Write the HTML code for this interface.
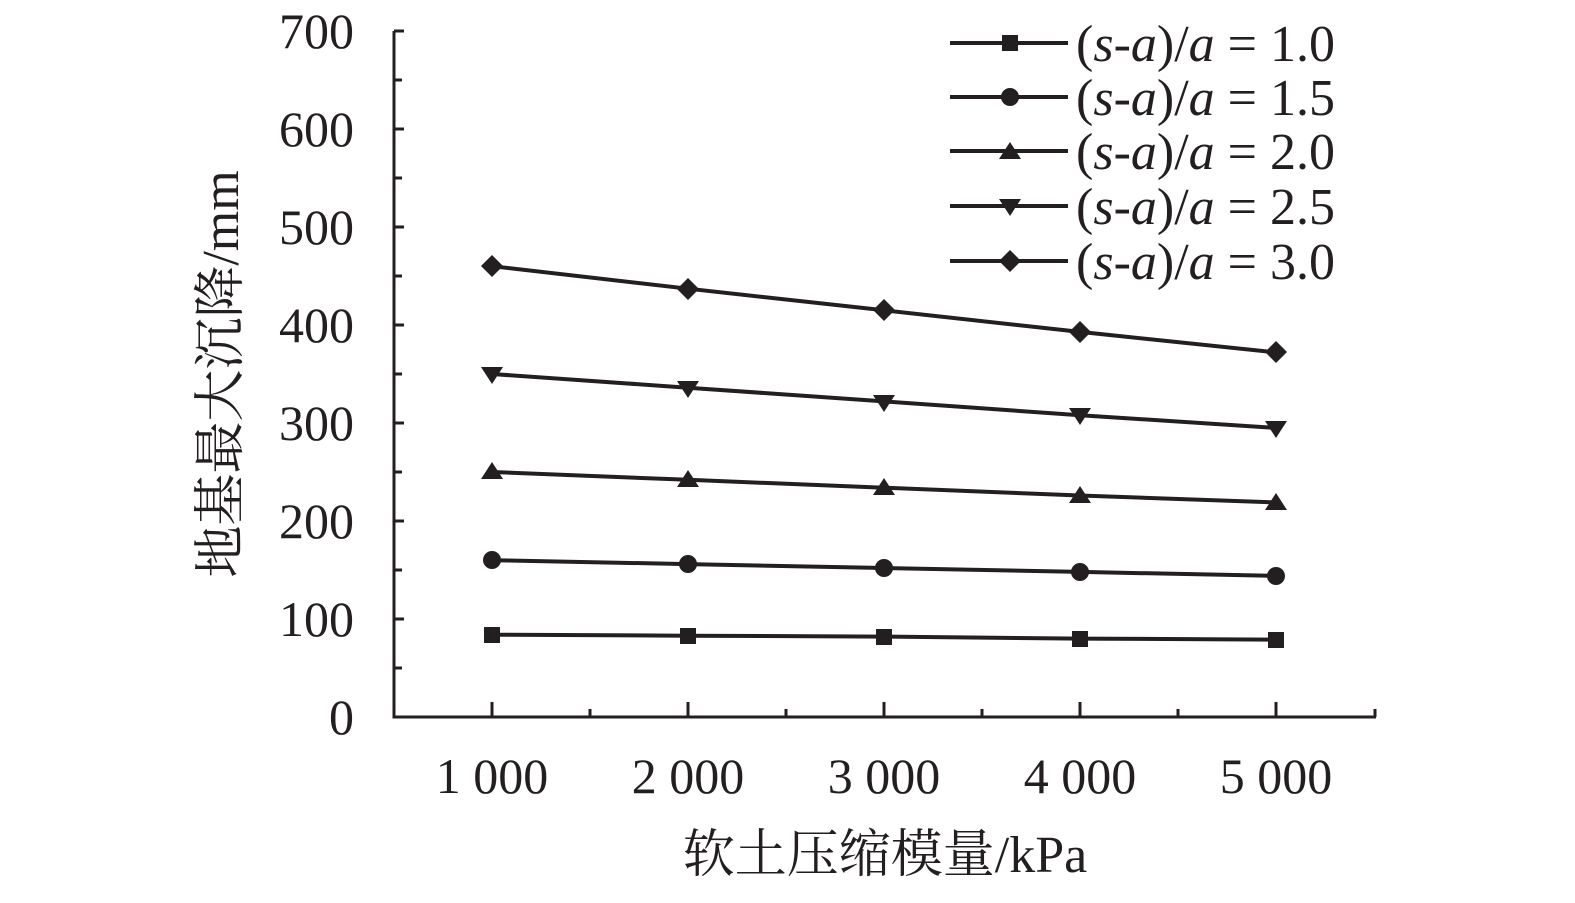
<!DOCTYPE html>
<html><head><meta charset="utf-8"><style>
html,body{margin:0;padding:0;background:#fff}
svg text{font-family:"Liberation Serif","Noto Serif CJK SC",serif;fill:#231f20}
</style></head><body>
<svg width="1575" height="898" viewBox="0 0 1575 898" xmlns="http://www.w3.org/2000/svg">
<g stroke="#231f20" stroke-width="3" fill="none">
<path d="M394 31 V717 H1376"/>
<path d="M394 31h10M394 80h8M394 129h10M394 178h8M394 227h10M394 276h8M394 325h10M394 374h8M394 423h10M394 472h8M394 521h10M394 570h8M394 619h10M394 668h8"/>
<path d="M492 717v-15M590 717v-8M688 717v-15M786 717v-8M884 717v-15M982 717v-8M1080 717v-15M1178 717v-8M1276 717v-15M1375 717v-8"/>
</g>
<g font-size="50" text-anchor="end">
<text x="354" y="734">0</text><text x="354" y="636">100</text><text x="354" y="538">200</text><text x="354" y="440">300</text><text x="354" y="342">400</text><text x="354" y="244">500</text><text x="354" y="146">600</text><text x="354" y="48">700</text>
</g>
<g font-size="50" text-anchor="middle">
<text x="492" y="793">1 000</text><text x="688" y="793">2 000</text><text x="884" y="793">3 000</text><text x="1080" y="793">4 000</text><text x="1276" y="793">5 000</text>
</g>
<g font-size="52" text-anchor="middle">
<text x="885" y="872">软土压缩模量/kPa</text>
<text transform="translate(238,374) rotate(-90)">地基最大沉降/mm</text>
</g>
<g stroke="#231f20" stroke-width="4" fill="none">
<polyline points="492,634.7 688,635.7 884,636.6 1080,638.6 1276,639.6"/>
<polyline points="492,560.2 688,564.1 884,568 1080,571.9 1276,575.9"/>
<polyline points="492,472 688,479.8 884,487.7 1080,495.5 1276,502.4"/>
<polyline points="492,374 688,387.7 884,401.4 1080,415.2 1276,427.9"/>
<polyline points="492,266.2 688,288.7 884,310.3 1080,331.9 1276,352.4"/>
<path d="M950 43h118M950 97h118M950 151h118M950 206h118M950 261h118"/>
</g>
<g fill="#231f20">
<rect x="484" y="627" width="16" height="16"/><rect x="680" y="628" width="16" height="16"/><rect x="876" y="629" width="16" height="16"/><rect x="1072" y="631" width="16" height="16"/><rect x="1268" y="632" width="16" height="16"/><rect x="1002" y="35" width="16" height="16"/>
<circle cx="492" cy="560" r="9"/><circle cx="688" cy="564" r="9"/><circle cx="884" cy="568" r="9"/><circle cx="1080" cy="572" r="9"/><circle cx="1276" cy="576" r="9"/><circle cx="1010" cy="97" r="9"/>
<path d="M492 462l11 17h-22z"/><path d="M688 470l11 17h-22z"/><path d="M884 478l11 17h-22z"/><path d="M1080 486l11 17h-22z"/><path d="M1276 493l11 17h-22z"/><path d="M1010 142l11 17h-22z"/>
<path d="M481 367h22l-11 17z"/><path d="M677 381h22l-11 17z"/><path d="M873 395h22l-11 17z"/><path d="M1069 408h22l-11 17z"/><path d="M1265 421h22l-11 17z"/><path d="M999 199h22l-11 17z"/>
<path d="M492 255l11 11-11 11-11-11z"/><path d="M688 278l11 11-11 11-11-11z"/><path d="M884 299l11 11-11 11-11-11z"/><path d="M1080 321l11 11-11 11-11-11z"/><path d="M1276 341l11 11-11 11-11-11z"/><path d="M1010 250l11 11-11 11-11-11z"/>
</g>
<g font-size="52" textLength="257">
<text x="1076" y="61">(<tspan font-style="italic">s</tspan>-<tspan font-style="italic">a</tspan>)/<tspan font-style="italic">a</tspan> = 1.0</text>
<text x="1076" y="115">(<tspan font-style="italic">s</tspan>-<tspan font-style="italic">a</tspan>)/<tspan font-style="italic">a</tspan> = 1.5</text>
<text x="1076" y="169">(<tspan font-style="italic">s</tspan>-<tspan font-style="italic">a</tspan>)/<tspan font-style="italic">a</tspan> = 2.0</text>
<text x="1076" y="224">(<tspan font-style="italic">s</tspan>-<tspan font-style="italic">a</tspan>)/<tspan font-style="italic">a</tspan> = 2.5</text>
<text x="1076" y="279">(<tspan font-style="italic">s</tspan>-<tspan font-style="italic">a</tspan>)/<tspan font-style="italic">a</tspan> = 3.0</text>
</g>
</svg>
</body></html>
